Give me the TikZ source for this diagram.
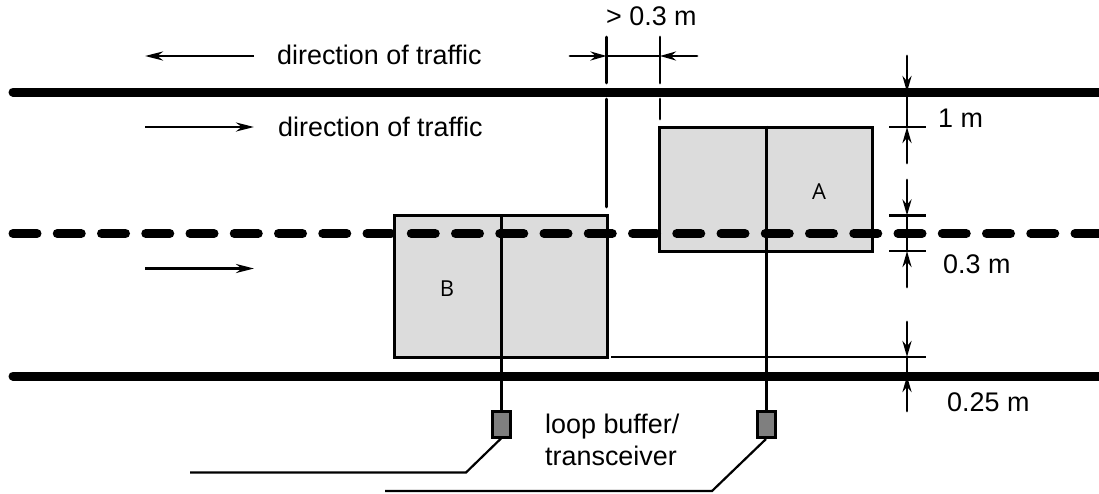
\documentclass[tikz,border=0pt]{standalone}
\usepackage{fontspec}
\setmainfont{Liberation Sans}
\newfontfamily\labelfont{Open Sans}
\usetikzlibrary{arrows.meta}
\definecolor{vehgray}{HTML}{DCDCDC}
\definecolor{unitgray}{HTML}{7F7F7F}
\tikzset{
  road/.style={line width=9pt,line cap=round},
  lane/.style={line width=9pt,line cap=round,dash pattern=on 24pt off 20.25pt},
  vehicle/.style={draw,line width=3pt,fill=vehgray,minimum width=0pt,minimum height=0pt,inner sep=0pt},
  axleline/.style={line width=3pt},
  unit/.style={draw,line width=3pt,fill=unitgray,inner sep=0pt,minimum width=18pt,minimum height=26pt},
  lead/.style={line width=2.2pt},
  ext/.style={line width=2.2pt},
  dimline/.style={line width=2.8pt,line cap=round},
  tip/.style={-{Stealth[length=16pt,width=9pt]}},
  flow/.style={line width=2.8pt,-{Stealth[length=18pt,width=9pt]}},
  txt/.style={inner sep=0pt,anchor=base west,font=\fontsize{26.9}{27}\selectfont},
  veh/.style={inner sep=0pt,font=\labelfont\fontsize{22}{22}\selectfont}
}
\begin{document}
\begin{tikzpicture}[x=1pt,y=-1pt]
\useasboundingbox (0,0) rectangle (1099,493);
% vehicles
\node[vehicle,minimum width=213pt,minimum height=142pt] (B) at (500.5,286.5) {};
\node[vehicle,minimum width=213pt,minimum height=124pt] (A) at (765.5,189) {};
% roads
\coordinate (rt1) at (13,92); \coordinate (rt2) at (1103,92);
\coordinate (rb1) at (13,376); \coordinate (rb2) at (1103,376);
\coordinate (rm1) at (13,233.5); \coordinate (rm2) at (1103,233.5);
\draw[road] (rt1) -- (rt2);
\draw[road] (rb1) -- (rb2);
\draw[lane] (rm1) -- (rm2);
% transceivers
\node[unit] (ub) at (501,424) {};
\node[unit] (ua) at (766,424.5) {};
\draw[axleline] (B.north -| ub) -- (ub.north);
\draw[axleline] (A.north -| ua) -- (ua.north);
\coordinate (lb1) at (466,472.5); \coordinate (lb2) at (190,472.5);
\coordinate (la1) at (712,491); \coordinate (la2) at (385,491);
\draw[lead] (ub.south) -- (lb1) -- (lb2);
\draw[lead] (ua.south) -- (la1) -- (la2);
% flow arrows
\coordinate (f1a) at (254,56); \coordinate (f1b) at (145,56);
\coordinate (f2a) at (145,127); \coordinate (f2b) at (254,127);
\coordinate (f3a) at (145,268.5); \coordinate (f3b) at (254,268.5);
\draw[flow] (f1a) -- (f1b);
\draw[flow] (f2a) -- (f2b);
\draw[flow] (f3a) -- (f3b);
% horizontal dimension
\coordinate (h1) at (606.5,37); \coordinate (h2) at (606.5,83);
\coordinate (h3) at (606.5,99); \coordinate (h4) at (606.5,207);
\coordinate (k1) at (660,37); \coordinate (k2) at (660,83);
\coordinate (k3) at (660,99); \coordinate (k4) at (660,119);
\coordinate (hl) at (570,56); \coordinate (hm) at (606.5,56);
\coordinate (hn) at (660,56); \coordinate (hr) at (697,56);
\draw[dimline] (h1) -- (h2);
\draw[dimline] (h3) -- (h4);
\draw[dimline] (k1) -- (k2);
\draw[dimline] (k3) -- (k4);
\draw[dimline] (hm) -- (hn);
\draw[dimline,tip] (hl) -- (hm);
\draw[dimline,tip] (hr) -- (hn);
% vertical dimensions
\coordinate (v1) at (907,56); \coordinate (v2) at (907,92);
\coordinate (v3) at (907,163); \coordinate (v4) at (907,127);
\coordinate (v5) at (907,180); \coordinate (v6) at (907,215.5);
\coordinate (v7) at (907,287); \coordinate (v8) at (907,251);
\coordinate (v9) at (907,322); \coordinate (v10) at (907,357);
\coordinate (v11) at (907,411); \coordinate (v12) at (907,376);
\draw[dimline] (v2) -- (v4);
\draw[dimline] (v6) -- (v8);
\draw[dimline] (v10) -- (v12);
\draw[dimline,tip] (v1) -- (v2);
\draw[dimline,tip] (v3) -- (v4);
\draw[dimline,tip] (v5) -- (v6);
\draw[dimline,tip] (v7) -- (v8);
\draw[dimline,tip] (v9) -- (v10);
\draw[dimline,tip] (v11) -- (v12);
\coordinate (t1a) at (889,127); \coordinate (t1b) at (926,127);
\coordinate (t2a) at (889,215.5); \coordinate (t2b) at (926,215.5);
\coordinate (t3a) at (889,251); \coordinate (t3b) at (926,251);
\coordinate (t4a) at (611,357); \coordinate (t4b) at (926,357);
\draw[ext] (t1a) -- (t1b);
\draw[ext] (t2a) -- (t2b);
\draw[ext] (t3a) -- (t3b);
\draw[ext] (t4a) -- (t4b);
% labels
\node[txt] (d1) at (277,64) {direction of traffic};
\node[txt] (d2) at (278,136) {direction of traffic};
\node[txt] (gap) at (606,25) {> 0.3 m};
\node[txt] (m1) at (938,127) {1 m};
\node[txt] (m03) at (943,273) {0.3 m};
\node[txt] (m025) at (947,411) {0.25 m};
\node[txt] (lbuf) at (545,433) {loop buffer/};
\node[txt] (ltr) at (545,465) {transceiver};
\node[veh] (la) at (819,192) {A};
\node[veh] (lb) at (447,289) {B};
\end{tikzpicture}
\end{document}
